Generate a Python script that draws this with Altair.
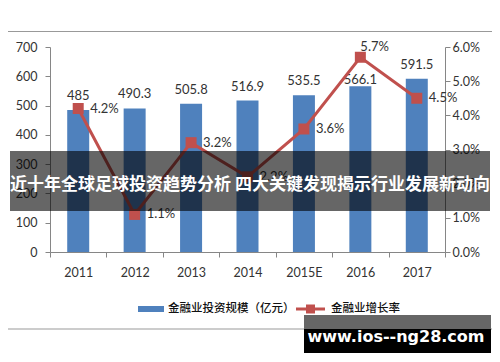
import altair as alt
import pandas as pd

years = ["2011", "2012", "2013", "2014", "2015E", "2016", "2017"]
invest = [485, 490.3, 505.8, 516.9, 535.5, 566.1, 591.5]
growth = [4.2, 1.1, 3.2, 2.2, 3.6, 5.7, 4.5]
legend_names = ["金融业投资规模（亿元）", "金融业增长率"]
banner_text = "近十年全球足球投资趋势分析 四大关键发现揭示行业发展新动向"
watermark_text = "www.ios--ng28.com"

df = pd.DataFrame({
    "year": years,
    "invest": invest,
    "growth": [g / 100 for g in growth],
    "ilabel": [f"{v:g}" for v in invest],
    "glabel": [f"{g:.1f}%" for g in growth],
})

NUM_FONT = "Lato"
CJK_FONT = "Noto Sans CJK SC"
AX = "#868686"
TXT = "#333333"
BLUE = "#4F81BD"
RED = "#C0504D"

x_enc = alt.X(
    "year:N", sort=years,
    scale=alt.Scale(paddingInner=0, paddingOuter=0),
    axis=alt.Axis(title=None, labelAngle=0, tickBand="extent", domainColor=AX,
                  tickColor=AX, tickSize=5, labelPadding=9, labelFont=NUM_FONT,
                  labelFontSize=12.5, labelColor=TXT, grid=False),
)

y_left = alt.Y(
    "invest:Q", scale=alt.Scale(domain=[0, 700]),
    axis=alt.Axis(title=None, orient="left", values=list(range(0, 701, 100)),
                  domainColor=AX, tickColor=AX, tickSize=5, labelPadding=8,
                  labelFont=NUM_FONT, labelFontSize=12.5, labelColor=TXT, grid=False),
)
y_right = alt.Y(
    "growth:Q", scale=alt.Scale(domain=[0, 0.06]),
    axis=alt.Axis(title=None, orient="right", values=[0, 0.01, 0.02, 0.03, 0.04, 0.05, 0.06],
                  format=".1%", domainColor=AX, tickColor=AX, tickSize=5, labelPadding=2,
                  labelFont=NUM_FONT, labelFontSize=12.5, labelColor=TXT, grid=False),
)

base = alt.Chart(df)

bars = base.mark_bar(width=22, color=BLUE).encode(x=x_enc, y=y_left)
bar_lab = base.transform_filter(alt.datum.year != "2016").mark_text(
    font=NUM_FONT, fontSize=13, color=TXT, dy=-14, baseline="middle"
).encode(x=x_enc, y=y_left, text="ilabel:N")
bar_lab16 = base.transform_filter(alt.datum.year == "2016").mark_text(
    font=NUM_FONT, fontSize=13, color=TXT, dy=-6, baseline="middle"
).encode(x=x_enc, y=y_left, text="ilabel:N")
left = alt.layer(bars, bar_lab, bar_lab16)

line = base.mark_line(color=RED, strokeWidth=3).encode(x=x_enc, y=y_right)
pts = base.mark_point(shape="square", filled=True, opacity=1, size=121, color=RED).encode(x=x_enc, y=y_right)
g_lab = base.transform_filter(alt.datum.year != "2016").mark_text(
    font=NUM_FONT, fontSize=13, color=TXT, dx=12, align="left", baseline="middle"
).encode(x=x_enc, y=y_right, text="glabel:N")
g_lab16 = base.transform_filter(alt.datum.year == "2016").mark_text(
    font=NUM_FONT, fontSize=13, color=TXT, dx=0, dy=-10, align="left", baseline="middle"
).encode(x=x_enc, y=y_right, text="glabel:N")
right = alt.layer(line, pts, g_lab, g_lab16)

one = alt.Chart(pd.DataFrame({"k": [0]}))

border = one.mark_rect(filled=False, stroke="#999999", strokeWidth=1).encode(
    x=alt.value(-48.5), x2=alt.value(448.5), y=alt.value(-15.5), y2=alt.value(282))

leg_rect = one.mark_rect(color=BLUE).encode(
    x=alt.value(88), x2=alt.value(114), y=alt.value(259), y2=alt.value(265))
leg_line = one.mark_rule(color=RED, strokeWidth=3).encode(
    x=alt.value(246), x2=alt.value(275), y=alt.value(262))
leg_sq = one.mark_point(shape="square", filled=True, opacity=1, size=81, color=RED).encode(
    x=alt.value(260.5), y=alt.value(262))
leg_t1 = one.mark_text(font=CJK_FONT, fontSize=11.5, fontWeight=500, color="#111111", align="left", baseline="middle").encode(
    x=alt.value(118), y=alt.value(262), text=alt.value(legend_names[0]))
leg_t2 = one.mark_text(font=CJK_FONT, fontSize=11.5, fontWeight=500, color="#111111", align="left", baseline="middle").encode(
    x=alt.value(281), y=alt.value(262), text=alt.value(legend_names[1]))

banner = one.mark_rect(color="black", opacity=0.6).encode(
    x=alt.value(-40), x2=alt.value(440), y=alt.value(104), y2=alt.value(164))
banner_t = one.mark_text(font=CJK_FONT, fontSize=17, fontWeight="bold", color="white",
                         align="center", baseline="middle").encode(
    x=alt.value(200), y=alt.value(138), text=alt.value(banner_text))

wm_top = one.mark_rect(color="#666666").encode(
    x=alt.value(254), x2=alt.value(441), y=alt.value(268), y2=alt.value(282))
wm_bot = one.mark_rect(color="black").encode(
    x=alt.value(254), x2=alt.value(441), y=alt.value(282), y2=alt.value(306))
wm_t = one.mark_text(font="DejaVu Sans", fontSize=16, fontWeight="bold", color="white",
                     align="center", baseline="middle").encode(
    x=alt.value(346), y=alt.value(290), text=alt.value(watermark_text))

chart = alt.layer(
    border, left, right, leg_rect, leg_line, leg_sq, leg_t1, leg_t2,
    banner, banner_t, wm_top, wm_bot, wm_t
).resolve_scale(y="independent").properties(
    width=395, height=205,
    padding={"left": 42, "top": 39, "right": 47, "bottom": 102},
    autosize=alt.AutoSizeParams(type="none"),
    background="white",
).configure_view(stroke=None)

chart.save("out.html", embed_options={"renderer": "svg", "actions": False})
